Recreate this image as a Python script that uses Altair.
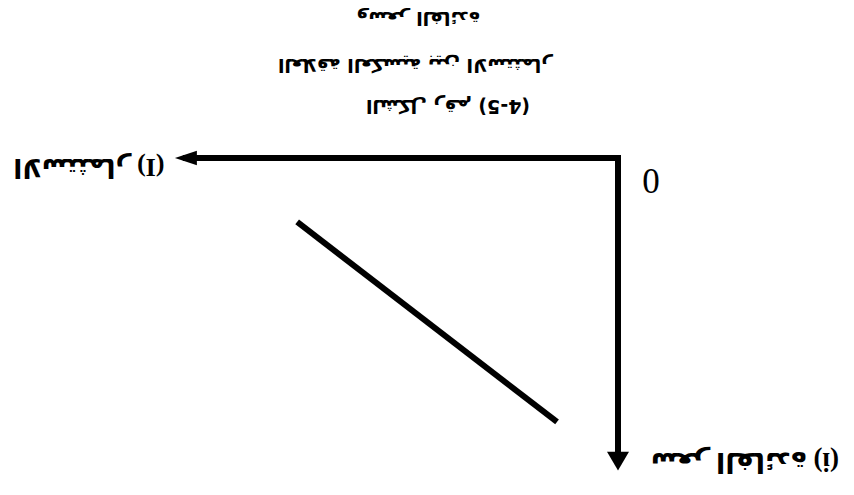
import altair as alt
import pandas as pd

RLE, LRE, PDF = "\u202B", "\u202A", "\u202C"

# ---- data read from the (upside-down) scanned figure ----
# axes (investment I on x, interest rate i on y), in data units
axis_from_I = [0.0, 0.0]
axis_from_i = [0.0, 0.0]
axis_to_I = [9.71, 0.0]
axis_to_i = [0.0, 9.66]

# investment demand line
demand_I = [7.21, 1.37]
demand_i = [2.05, 8.46]

# arrow heads
head_I = [9.71, 0.0]
head_i = [0.0, 9.66]
head_shape = ["M -1 0 L 1 -0.65 L 1 0.65 Z", "M 0 1 L -1 -0.7 L 1 -0.7 Z"]

# labels
origin_text = ["0"]
origin_I = [-0.74]
origin_i = [0.71]

axis_label_text = ["الاستثمار (I)", "سعر الفائدة (i)"]
axis_label_I = [11.89, -2.85]
axis_label_i = [0.29, 9.7]
axis_label_size = [26, 27]

title_text = ["الشكل رقم (" + LRE + "4-5" + PDF + ")", "العلاقة العكسية بين الاستثمار", "وسعر الفائدة"]
title_I = [3.82, 4.56, 4.49]
title_i = [-1.67, -2.98, -4.49]

xs = alt.Scale(domain=[0, 10], range=[610, 165])
ys = alt.Scale(domain=[0, 10], range=[150, 462])

axes_df = pd.DataFrame({"I0": axis_from_I, "i0": axis_from_i, "I1": axis_to_I, "i1": axis_to_i})
dem_df = pd.DataFrame({"I0": [demand_I[0]], "i0": [demand_i[0]], "I1": [demand_I[1]], "i1": [demand_i[1]]})
head_df = pd.DataFrame({"I": head_I, "i": head_i, "shape": head_shape})
origin_df = pd.DataFrame({"t": origin_text, "I": origin_I, "i": origin_i})
alab_df = pd.DataFrame({"t": [RLE + s + PDF for s in axis_label_text], "I": axis_label_I,
                        "i": axis_label_i, "fs": axis_label_size})
title_df = pd.DataFrame({"t": [RLE + s + PDF for s in title_text], "I": title_I, "i": title_i})

X = lambda f: alt.X(f, type="quantitative", scale=xs, axis=None)
Y = lambda f: alt.Y(f, type="quantitative", scale=ys, axis=None)

axes = alt.Chart(axes_df).mark_rule(color="black", strokeWidth=6, strokeCap="square").encode(
    x=X("I0"), x2="I1", y=Y("i0"), y2="i1"
)
demand = alt.Chart(dem_df).mark_rule(color="black", strokeWidth=6).encode(
    x=X("I0"), x2="I1", y=Y("i0"), y2="i1"
)
heads = alt.Chart(head_df).mark_point(filled=True, color="black", opacity=1, size=484).encode(
    x=X("I"), y=Y("i"), shape=alt.Shape("shape:N", scale=None)
)
origin = alt.Chart(origin_df).mark_text(
    font="Liberation Serif", fontSize=35, angle=180, align="center", baseline="middle", color="black"
).encode(x=X("I"), y=Y("i"), text="t")
alab = alt.Chart(alab_df).mark_text(
    font="Liberation Serif, DejaVu Sans", angle=180, align="center", baseline="middle",
    color="black", fontWeight="bold"
).encode(x=X("I"), y=Y("i"), text="t", size=alt.Size("fs:Q", scale=None))
titles = alt.Chart(title_df).mark_text(
    font="DejaVu Sans", fontSize=19, angle=180, align="center", baseline="middle",
    color="black", fontWeight="bold"
).encode(x=X("I"), y=Y("i"), text="t")

chart = alt.layer(axes, demand, heads, origin, alab, titles).properties(
    width=838, height=479, padding=0, autosize=alt.AutoSizeParams(type="none"),
    background="white"
).configure_view(stroke=None)

chart.save("out.html", embed_options={"renderer": "svg", "actions": False})
